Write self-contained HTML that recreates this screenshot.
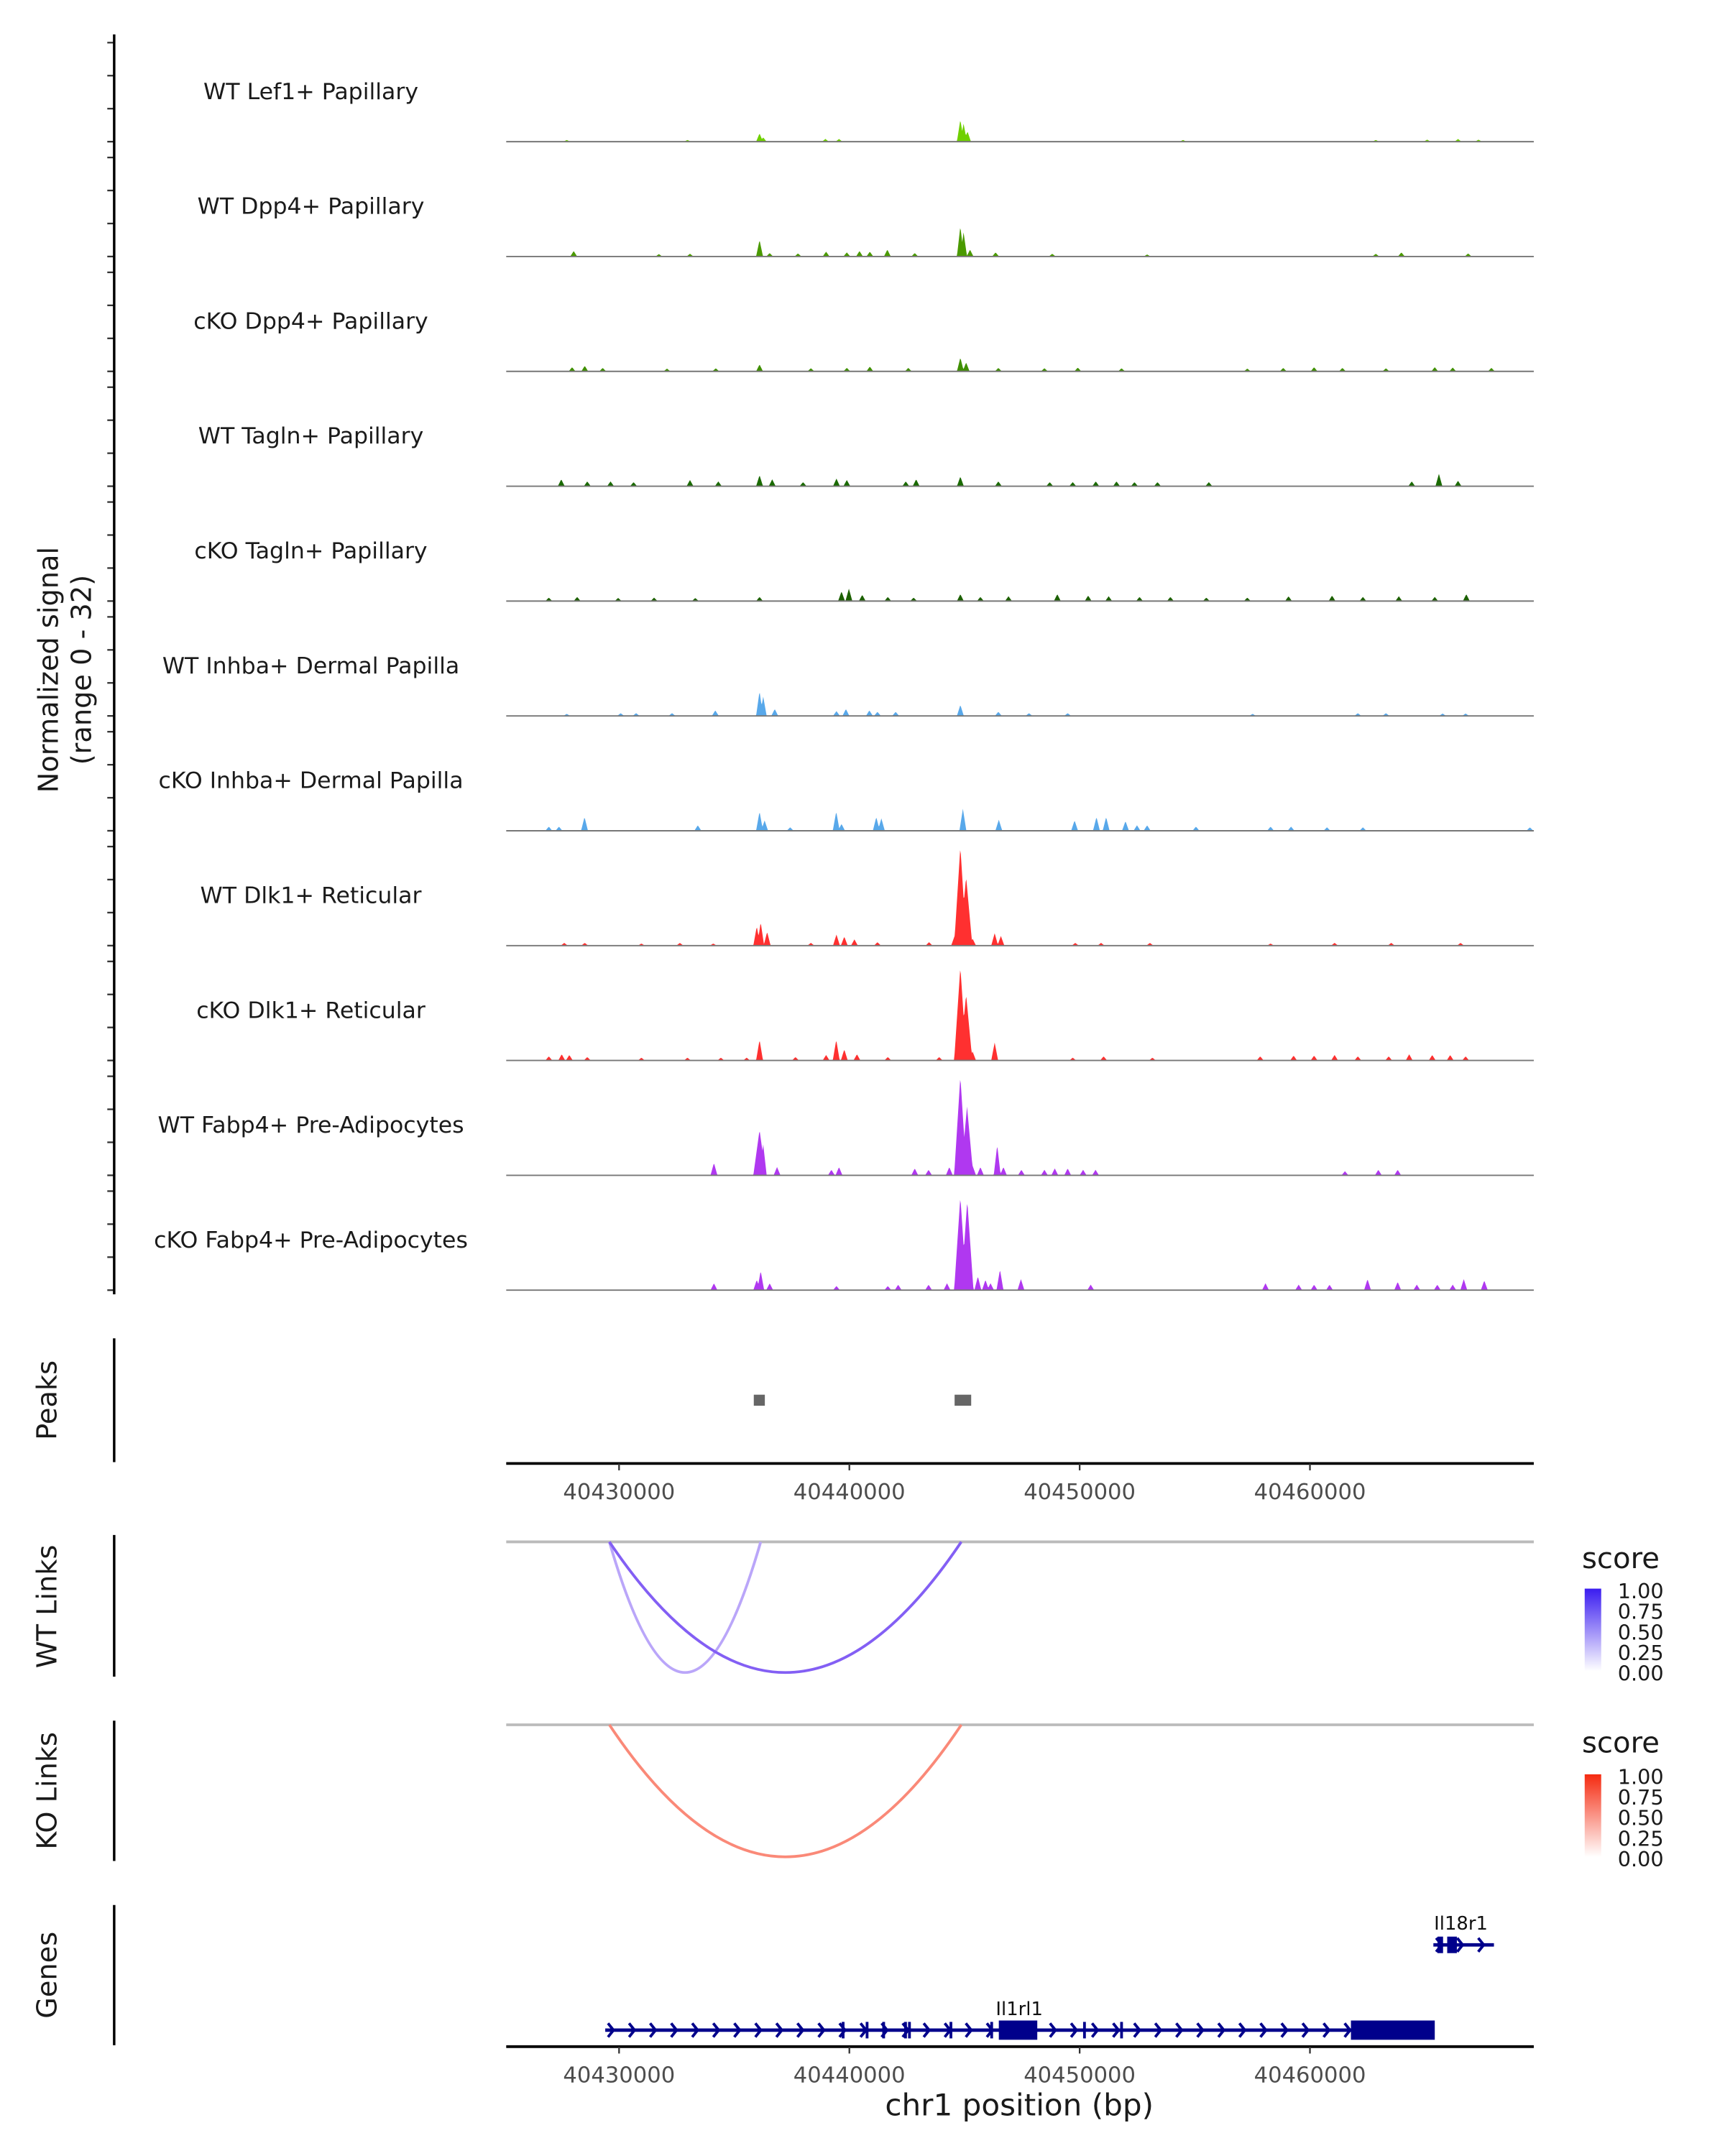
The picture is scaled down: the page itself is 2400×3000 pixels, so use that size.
<!DOCTYPE html>
<html><head><meta charset="utf-8"><style>
html,body{margin:0;padding:0;background:#fff;}
svg{display:block;font-family:"DejaVu Sans","Liberation Sans",sans-serif;}
</style></head><body>
<svg id="chart" width="2400" height="3000" viewBox="0 0 1254 1567.5" xmlns="http://www.w3.org/2000/svg">
<g id="tracks"></g>
<text transform="translate(42,487) rotate(-90)" text-anchor="middle" font-size="20" fill="#1a1a1a">Normalized signal</text>
<text transform="translate(66,487) rotate(-90)" text-anchor="middle" font-size="20" fill="#1a1a1a">(range 0 - 32)</text>
<line x1="83" y1="25" x2="83" y2="941" stroke="#000" stroke-width="1.8"/>
<g>
<line x1="83" y1="973" x2="83" y2="1063" stroke="#000" stroke-width="1.8"/>
<text transform="translate(41,1018) rotate(-90)" text-anchor="middle" font-size="20" fill="#1a1a1a">Peaks</text>
<g id="peaks"></g>
</g>
<g id="axis1"></g>
<g>
<line x1="83" y1="1116" x2="83" y2="1219" stroke="#000" stroke-width="1.8"/>
<text transform="translate(41,1168) rotate(-90)" text-anchor="middle" font-size="20" fill="#1a1a1a">WT Links</text>
<line x1="368" y1="1121" x2="1115" y2="1121" stroke="#bbb" stroke-width="2"/>
<g id="wtlinks"></g>
</g>
<g>
<line x1="83" y1="1251" x2="83" y2="1353" stroke="#000" stroke-width="1.8"/>
<text transform="translate(41,1302) rotate(-90)" text-anchor="middle" font-size="20" fill="#1a1a1a">KO Links</text>
<line x1="368" y1="1254" x2="1115" y2="1254" stroke="#bbb" stroke-width="2"/>
<g id="kolinks"></g>
</g>
<defs>
<linearGradient id="gBlue" x1="0" y1="1" x2="0" y2="0"><stop offset="0" stop-color="#ffffff"/><stop offset="1" stop-color="#3a1cf0"/></linearGradient>
<linearGradient id="gRed" x1="0" y1="1" x2="0" y2="0"><stop offset="0" stop-color="#ffffff"/><stop offset="1" stop-color="#f52a10"/></linearGradient>
</defs>
<g font-size="15" fill="#1a1a1a">
<text x="1150" y="1140" font-size="21">score</text>
<rect x="1152" y="1155" width="12" height="60" fill="url(#gBlue)"/>
<text x="1176" y="1162">1.00</text><text x="1176" y="1177">0.75</text><text x="1176" y="1192">0.50</text><text x="1176" y="1207">0.25</text><text x="1176" y="1222">0.00</text>
</g>
<g font-size="15" fill="#1a1a1a">
<text x="1150" y="1274" font-size="21">score</text>
<rect x="1152" y="1290" width="12" height="60" fill="url(#gRed)"/>
<text x="1176" y="1297">1.00</text><text x="1176" y="1312">0.75</text><text x="1176" y="1327">0.50</text><text x="1176" y="1342">0.25</text><text x="1176" y="1357">0.00</text>
</g>
<g>
<line x1="83" y1="1385" x2="83" y2="1487" stroke="#000" stroke-width="1.8"/>
<text transform="translate(41,1436) rotate(-90)" text-anchor="middle" font-size="20" fill="#1a1a1a">Genes</text>
<g id="genes"></g>
</g>
<g id="axis2"></g>
<text x="741" y="1538" text-anchor="middle" font-size="22" fill="#1a1a1a">chr1 position (bp)</text>
</svg>
<script>
// genomic range in kb
const rangeKb = [40425.10, 40469.72];
const trackNames = ["WT Lef1+ Papillary","WT Dpp4+ Papillary","cKO Dpp4+ Papillary","WT Tagln+ Papillary","cKO Tagln+ Papillary","WT Inhba+ Dermal Papilla","cKO Inhba+ Dermal Papilla","WT Dlk1+ Reticular","cKO Dlk1+ Reticular","WT Fabp4+ Pre-Adipocytes","cKO Fabp4+ Pre-Adipocytes"];
const trackColors = ["#6fd000","#4a9a00","#3f8f00","#1a6a00","#1c6000","#58a8ea","#58a8ea","#ff3030","#ff3030","#b038f0","#b038f0"];
// peak positions (kb) and heights (signal, range 0-32)
const pos1 = [40436.10,40436.26,40438.96,40439.55,40444.82,40444.96,40445.13,40427.73,40432.97,40454.49,40462.86,40465.09,40466.43,40467.32];
const hgt1 = [2.4,1.2,0.8,0.8,6.4,5.2,3.0,0.5,0.5,0.5,0.5,0.6,0.8,0.6];
const pos2 = [40428.03,40431.73,40433.08,40436.10,40436.54,40437.77,40438.99,40439.89,40440.44,40440.89,40441.65,40442.84,40444.82,40444.96,40445.24,40446.35,40448.81,40452.93,40462.86,40463.97,40466.87];
const hgt2 = [1.6,0.7,0.8,4.8,1.0,0.9,1.4,1.2,1.6,1.4,2.0,1.0,8.8,7.0,2.0,1.2,0.8,0.6,0.8,1.2,0.9];
const pos3 = [40427.96,40428.51,40429.29,40432.08,40434.20,40436.10,40438.33,40439.89,40440.89,40442.56,40444.82,40445.07,40446.47,40448.47,40449.92,40451.82,40457.28,40458.84,40460.18,40461.41,40463.30,40465.42,40466.20,40467.88];
const hgt3 = [1.2,1.6,1.0,0.8,0.9,2.0,0.9,1.0,1.4,1.0,4.0,2.6,1.0,0.9,1.1,0.9,0.8,1.0,1.2,1.0,0.9,1.2,1.1,1.0];
const pos4 = [40427.49,40428.62,40429.63,40430.63,40433.08,40434.31,40436.10,40436.65,40437.99,40439.44,40439.89,40442.45,40442.90,40444.82,40446.47,40448.70,40449.70,40450.70,40451.60,40452.38,40453.38,40455.61,40464.42,40465.60,40466.43];
const hgt4 = [2.0,1.4,1.4,1.2,1.8,1.4,3.2,2.0,1.2,2.2,1.8,1.4,2.0,2.8,1.4,1.2,1.2,1.4,1.4,1.2,1.2,1.2,1.4,3.6,1.6];
const pos5 = [40426.95,40428.18,40429.96,40431.52,40433.31,40436.10,40439.66,40439.98,40440.56,40441.67,40442.79,40444.82,40445.69,40446.91,40449.03,40450.37,40451.26,40452.60,40453.94,40455.50,40457.28,40459.07,40460.96,40462.30,40463.86,40465.42,40466.79];
const hgt5 = [1.0,1.2,0.9,1.0,0.9,1.2,2.8,3.6,1.8,1.2,1.0,2.0,1.2,1.4,2.0,1.6,1.4,1.2,1.2,1.0,1.0,1.4,1.6,1.2,1.4,1.2,2.0];
const pos6 = [40427.73,40430.07,40430.74,40432.30,40434.18,40436.10,40436.26,40436.76,40439.44,40439.85,40440.87,40441.22,40442.01,40444.82,40446.47,40447.80,40449.48,40457.51,40462.08,40463.30,40465.76,40466.76];
const hgt6 = [0.6,0.8,0.8,0.8,1.6,7.2,5.6,2.0,1.4,2.0,1.6,1.2,1.2,3.2,1.2,0.8,0.8,0.6,0.8,0.8,0.7,0.7];
const pos7 = [40426.95,40427.39,40428.50,40433.42,40436.10,40436.32,40437.43,40439.43,40439.66,40441.17,40441.39,40444.93,40446.49,40449.78,40450.73,40451.15,40451.99,40452.49,40452.93,40455.05,40458.29,40459.18,40460.74,40462.30,40469.55];
const hgt7 = [1.2,1.2,4.0,1.6,5.6,3.0,1.0,5.6,2.0,4.0,3.6,6.4,3.2,3.0,4.0,4.0,2.8,1.6,1.6,1.2,1.2,1.2,1.0,1.0,1.0];
const pos8 = [40427.62,40428.51,40430.97,40432.64,40434.09,40435.98,40436.15,40436.43,40438.33,40439.44,40439.78,40440.22,40441.22,40443.46,40444.57,40444.82,40445.07,40445.35,40446.31,40446.58,40449.81,40450.93,40453.05,40458.29,40461.07,40463.53,40466.54];
const hgt8 = [0.8,0.8,0.6,0.8,0.6,5.6,6.8,4.0,0.8,3.2,2.6,1.8,1.0,1.0,2.8,28.8,20.0,2.0,3.6,2.8,0.8,0.8,0.8,0.6,0.8,0.8,0.8];
const pos9 = [40426.95,40427.51,40427.84,40428.62,40430.97,40432.97,40434.42,40435.54,40436.10,40437.66,40438.99,40439.43,40439.78,40440.33,40441.67,40443.90,40444.82,40445.07,40445.35,40446.31,40449.70,40451.04,40453.16,40457.84,40459.29,40460.18,40461.07,40462.08,40463.42,40464.31,40465.31,40466.09,40466.76];
const hgt9 = [1.2,1.8,1.6,1.0,0.8,0.8,0.8,0.8,6.0,1.0,1.6,6.0,3.2,1.8,1.0,1.0,27.2,19.2,2.6,5.2,0.8,1.2,0.8,1.2,1.4,1.4,1.6,1.2,1.2,1.8,1.6,1.6,1.2];
const pos10 = [40434.12,40436.10,40436.26,40436.86,40439.22,40439.55,40442.84,40443.44,40444.34,40444.82,40445.11,40445.35,40445.69,40446.42,40446.69,40447.47,40448.47,40448.92,40449.48,40450.15,40450.69,40461.52,40462.97,40463.81];
const hgt10 = [3.6,13.2,9.0,2.4,1.6,2.4,2.0,1.6,2.4,28.8,20.0,2.8,2.4,8.8,2.4,1.6,1.6,2.0,2.0,1.6,1.6,1.2,1.6,1.6];
const pos11 = [40434.12,40435.98,40436.15,40436.54,40439.44,40441.67,40442.12,40443.44,40444.24,40444.82,40445.12,40445.58,40445.91,40446.13,40446.54,40447.45,40450.48,40458.07,40459.51,40460.18,40460.85,40462.50,40463.81,40464.64,40465.53,40466.20,40466.68,40467.57];
const hgt11 = [2.0,3.0,5.6,2.0,1.2,1.2,1.6,1.6,2.0,27.2,26.0,4.0,3.0,2.0,6.0,3.2,1.6,2.0,1.6,1.6,1.6,3.2,2.4,1.6,1.6,1.6,3.2,2.8];
const trackPos = [pos1,pos2,pos3,pos4,pos5,pos6,pos7,pos8,pos9,pos10,pos11];
const trackHgt = [hgt1,hgt2,hgt3,hgt4,hgt5,hgt6,hgt7,hgt8,hgt9,hgt10,hgt11];
// peaks (kb)
const peakStart = [40435.85, 40444.57];
const peakEnd = [40436.33, 40445.29];
// links (kb) and scores
const wtLinkStart = [40429.58, 40429.58];
const wtLinkEnd = [40436.15, 40444.86];
const wtLinkScore = [0.42, 0.75];
const koLinkStart = [40429.58];
const koLinkEnd = [40444.86];
const koLinkScore = [0.55];
// x ticks
const tickValues = [40430000, 40440000, 40450000, 40460000];
// genes (kb)
const geneNames = ["Il1rl1","Il18r1"];
const geneStart = [40429.40, 40465.36];
const geneEnd = [40465.30, 40467.99];
const il1rl1ExonStart = [40439.67,40440.71,40441.43,40442.38,40442.55,40444.35,40446.12,40446.49,40450.15,40451.76,40461.78];
const il1rl1ExonEnd = [40439.75,40440.79,40441.51,40442.46,40442.63,40444.43,40446.20,40448.16,40450.23,40451.84,40465.42];
const il18r1ExonStart = [40465.54, 40465.96];
const il18r1ExonEnd = [40465.78, 40466.38];

const NS = "http://www.w3.org/2000/svg";
const X0 = 368, X1 = 1115;
function xs(kb){ return X0 + (kb - rangeKb[0]) / (rangeKb[1] - rangeKb[0]) * (X1 - X0); }
function xbp(bp){ return xs(bp/1000); }
const trackTop = 103, trackStep = 83.5, pxPerUnit = 2.5;
function ys(base, v){ return base - v * pxPerUnit; }
function mk(tag, attrs, parent){ const e = document.createElementNS(NS, tag); for (const k in attrs) e.setAttribute(k, attrs[k]); parent.appendChild(e); return e; }

const tracksG = document.getElementById("tracks");
trackNames.forEach((name, i) => {
  const base = trackTop + i * trackStep;
  const g = mk("g", {}, tracksG);
  
  
  for (let t = 0; t < 4; t++) {
    const tk = mk("line", {x1: 78, x2: 83, y1: base - t*24, y2: base - t*24, stroke: "#333", "stroke-width": 1.2}, g);
    
    
  }
  const lbl = mk("text", {x: 226, y: base - 31, "text-anchor": "middle", "font-size": 16.5, fill: "#1a1a1a"}, g);
  lbl.textContent = name;
  
  
  const ps = trackPos[i], hs = trackHgt[i];
  const step = 0.03, w = 0.15;
  let d = "M" + X0 + " " + base;
  for (let kb = rangeKb[0]; kb <= rangeKb[1]; kb += step) {
    let v = 0;
    for (let j = 0; j < ps.length; j++) {
      const dd = Math.abs(kb - ps[j]);
      const ww = hs[j] > 10 ? w * 1.8 : w;
      if (dd < ww) v = Math.max(v, hs[j] * (1 - dd/ww));
    }
    d += " L" + xs(kb).toFixed(2) + " " + ys(base, v).toFixed(2);
  }
  d += " L" + X1 + " " + base + " Z";
  const area = mk("path", {d: d, fill: trackColors[i]}, g);
  
  
  const bl = mk("line", {x1: X0, x2: X1, y1: base, y2: base, stroke: "#777", "stroke-width": 1}, g);
  
  
});

const peaksG = document.getElementById("peaks");
peakStart.forEach((s, i) => {
  const r = mk("rect", {x: xs(s), y: 1014, width: xs(peakEnd[i]) - xs(s), height: 8, fill: "#666"}, peaksG);
  
  
});

function axis(id, y){
  const g = document.getElementById(id);
  mk("line", {x1: X0, x2: X1, y1: y, y2: y, stroke: "#000", "stroke-width": 2}, g);
  tickValues.forEach(v => {
    const x = xbp(v);
    const t = mk("line", {x1: x, x2: x, y1: y, y2: y + 5, stroke: "#333", "stroke-width": 1.2}, g);
    
    
    const l = mk("text", {x: x, y: y + 26, "text-anchor": "middle", "font-size": 16, fill: "#4d4d4d"}, g);
    l.textContent = v;
    
    
  });
}
axis("axis1", 1064);
axis("axis2", 1488);

function mixColor(c, s){ return "rgb(" + c.map(v => Math.round(255 - s*(255 - v))).join(",") + ")"; }
function links(id, starts, ends, scores, y0, depth, col){
  const g = document.getElementById(id);
  starts.forEach((s, i) => {
    const xa = xs(s), xb = xs(ends[i]);
    const p = mk("path", {d: "M" + xa + " " + y0 + " Q" + ((xa+xb)/2) + " " + (y0 + 2*depth) + " " + xb + " " + y0, fill: "none", stroke: mixColor(col, scores[i]), "stroke-width": 2}, g);
    
    
  });
}
links("wtlinks", wtLinkStart, wtLinkEnd, wtLinkScore, 1121, 95, [90, 42, 240]);
links("kolinks", koLinkStart, koLinkEnd, koLinkScore, 1254, 96, [245, 40, 10]);

const genesG = document.getElementById("genes");
function gene(idx, y, exS, exE, lx){
  const g = mk("g", {}, genesG);
  
  
  const xa = xs(geneStart[idx]), xb = xs(geneEnd[idx]);
  mk("line", {x1: xa, x2: xb, y1: y, y2: y, stroke: "#00008b", "stroke-width": 2.5}, g);
  for (let x = xa + 2; x < xb - 4; x += 15.3) {
    mk("path", {d: "M" + x + " " + (y-5) + " L" + (x+4) + " " + y + " L" + x + " " + (y+5), fill: "none", stroke: "#00008b", "stroke-width": 2}, g);
  }
  exS.forEach((s, i) => {
    const wide = exE[i] - s > 0.8;
    const x = xs(s), w = Math.max(2, xs(exE[i]) - x);
    mk("rect", {x: x, y: wide ? y-7 : y-6, width: w, height: wide ? 14 : 12, fill: "#00008b"}, g);
  });
  const t = mk("text", {x: lx, y: y - 11, "text-anchor": "middle", "font-size": 13.5, fill: "#111"}, g);
  t.textContent = geneNames[idx];
}
gene(0, 1476, il1rl1ExonStart, il1rl1ExonEnd, 741);
gene(1, 1414, il18r1ExonStart, il18r1ExonEnd, 1062);
</script>
</body></html>
